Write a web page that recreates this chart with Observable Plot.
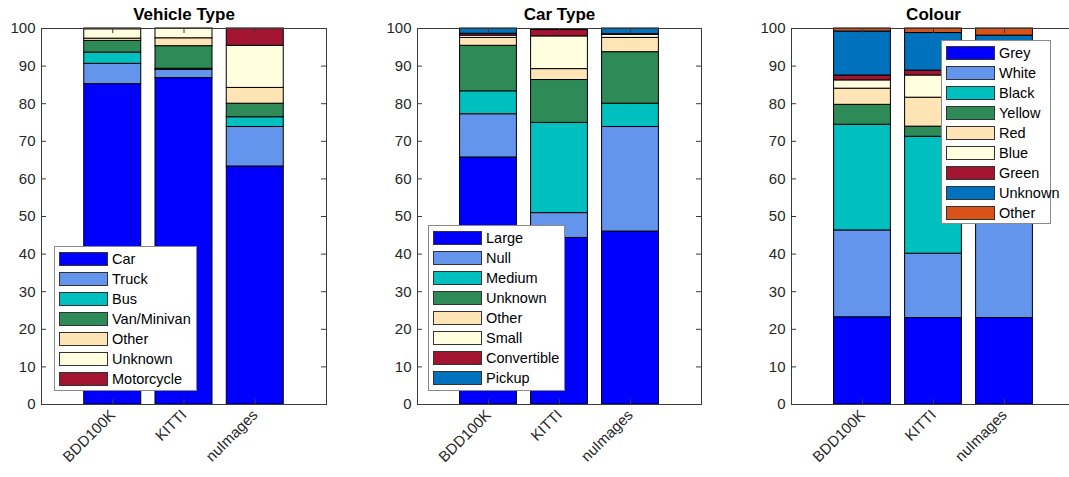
<!DOCTYPE html>
<html><head><meta charset="utf-8">
<script src="https://cdn.jsdelivr.net/npm/d3@7"></script>
<script src="https://cdn.jsdelivr.net/npm/@observablehq/plot@0.6"></script>
<style>
body{margin:0;background:#fff;font-family:"Liberation Sans",Arial,sans-serif;}
#wrap{position:relative;width:1069px;height:477px;overflow:hidden;background:#fff;}
.panel{position:absolute;top:0;}
.legend{position:absolute;background:#fff;border:1px solid #8a8a8a;box-sizing:border-box;}
.row{position:absolute;left:0;height:20px;display:flex;align-items:center;font-size:14.5px;color:#000;white-space:nowrap;}
.sw{width:49px;height:14px;border:1px solid #333;box-sizing:border-box;margin-left:4px;margin-right:4px;}
</style></head><body><div id="wrap"></div>
<script>
const datasets = ["BDD100K", "KITTI", "nuImages"];
const yTicks = [0, 10, 20, 30, 40, 50, 60, 70, 80, 90, 100];
const palette = ["#0000FF", "#6495ED", "#00BFBF", "#2E8B57", "#FFE4B5", "#FFFFE0", "#A2142F", "#0072BD", "#D95319"];

// Vehicle Type
const vehicleTypes = ["Car", "Truck", "Bus", "Van/Minivan", "Other", "Unknown", "Motorcycle"];
const vehicleBDD100K = [85.2, 5.4, 3.0, 3.1, 0.6, 2.5, 0.2];
const vehicleKITTI = [86.8, 2.2, 0.3, 6.0, 2.1, 2.6, 0.0];
const vehicleNuImages = [63.3, 10.5, 2.6, 3.6, 4.2, 11.2, 4.6];

// Car Type
const carTypes = ["Large", "Null", "Medium", "Unknown", "Other", "Small", "Convertible", "Pickup"];
const carBDD100K = [65.7, 11.5, 6.1, 12.1, 2.1, 0.6, 0.5, 1.4];
const carKITTI = [44.3, 6.6, 24.0, 11.4, 2.9, 8.7, 1.7, 0.0];
const carNuImages = [46.0, 27.8, 6.2, 13.7, 3.8, 0.8, 0.2, 1.5];

// Colour
const colours = ["Grey", "White", "Black", "Yellow", "Red", "Blue", "Green", "Unknown", "Other"];
const colourBDD100K = [23.2, 23.1, 28.1, 5.3, 4.3, 2.2, 1.3, 11.7, 0.8];
const colourKITTI = [23.0, 17.1, 31.1, 2.7, 7.7, 5.9, 1.3, 10.0, 1.2];
const colourNuImages = [23.0, 50.5, 5.0, 3.0, 3.5, 2.0, 1.0, 10.1, 1.9];

const panels = [
  {title: "Vehicle Type", cats: vehicleTypes, series: [vehicleBDD100K, vehicleKITTI, vehicleNuImages],
   left: 0, width: 370, mL: 41, mR: 44, legend: {left: 54, top: 246, width: 143, height: 145, first: 3}},
  {title: "Car Type", cats: carTypes, series: [carBDD100K, carKITTI, carNuImages],
   left: 370, width: 360, mL: 47, mR: 29, legend: {left: 428, top: 225, width: 137, height: 166, first: 3}},
  {title: "Colour", cats: colours, series: [colourBDD100K, colourKITTI, colourNuImages],
   left: 730, width: 345, mL: 61, mR: 0, legend: {left: 941, top: 40, width: 110, height: 184, first: 3}}
];

const wrap = document.getElementById("wrap");
const H = 477, mT = 28, mB = 73;

for (const p of panels) {
  const rows = [];
  p.series.forEach((vals, i) => {
    let cum = 0;
    vals.forEach((v, j) => {
      rows.push({ds: datasets[i], xi: i + 1, cat: p.cats[j], y1: cum, y2: cum + v});
      cum += v;
    });
  });
  const innerW = p.width - p.mL - p.mR;
  const innerH = H - mT - mB;
  const xIdx = datasets.map((d, i) => i + 1);
  const chart = Plot.plot({
    width: p.width, height: H,
    marginLeft: p.mL, marginRight: p.mR, marginTop: mT, marginBottom: mB,
    x: {type: "linear", domain: [0, 4]},
    y: {domain: [0, 100]},
    color: {domain: p.cats, range: palette.slice(0, p.cats.length)},
    style: {fontFamily: "'Liberation Sans', Arial, sans-serif", fontSize: "15px", color: "#262626", background: "transparent", overflow: "visible"},
    marks: [
      Plot.rect(rows, {x1: d => d.xi - 0.4, x2: d => d.xi + 0.4, y1: "y1", y2: "y2", fill: "cat", stroke: "#000", strokeWidth: 1}),
      Plot.frame({stroke: "#3a3a3a", strokeWidth: 1}),
      Plot.tickY(yTicks, {y: d => d, insetRight: innerW - 5, stroke: "#3a3a3a"}),
      Plot.tickY(yTicks, {y: d => d, insetLeft: innerW - 5, stroke: "#3a3a3a"}),
      Plot.tickX(xIdx, {x: d => d, insetTop: innerH - 5, stroke: "#3a3a3a"}),
      Plot.tickX(xIdx, {x: d => d, insetBottom: innerH - 5, stroke: "#3a3a3a"}),
      Plot.axisY({ticks: yTicks, tickSize: 0, tickPadding: 6, fontSize: 15, tickFormat: d => String(d)}),
      Plot.axisX({ticks: xIdx, tickSize: 0, tickPadding: 8, tickRotate: -45, fontSize: 15, tickFormat: i => datasets[i - 1]}),
      Plot.text([p.title], {frameAnchor: "top", lineAnchor: "middle", dy: -14, fontWeight: "bold", fontSize: 17, fill: "#000"})
    ]
  });
  chart.classList.add("panel");
  chart.style.left = p.left + "px";
  wrap.appendChild(chart);

  const lg = document.createElement("div");
  lg.className = "legend";
  Object.assign(lg.style, {left: p.legend.left + "px", top: p.legend.top + "px", width: p.legend.width + "px", height: p.legend.height + "px"});
  p.cats.forEach((c, j) => {
    const r = document.createElement("div");
    r.className = "row";
    r.style.top = (p.legend.first - 1 + 20 * j) + "px";
    const sw = document.createElement("div");
    sw.className = "sw";
    sw.style.background = palette[j];
    const t = document.createElement("span");
    t.textContent = c;
    r.appendChild(sw); r.appendChild(t);
    lg.appendChild(r);
  });
  wrap.appendChild(lg);
}
</script></body></html>
